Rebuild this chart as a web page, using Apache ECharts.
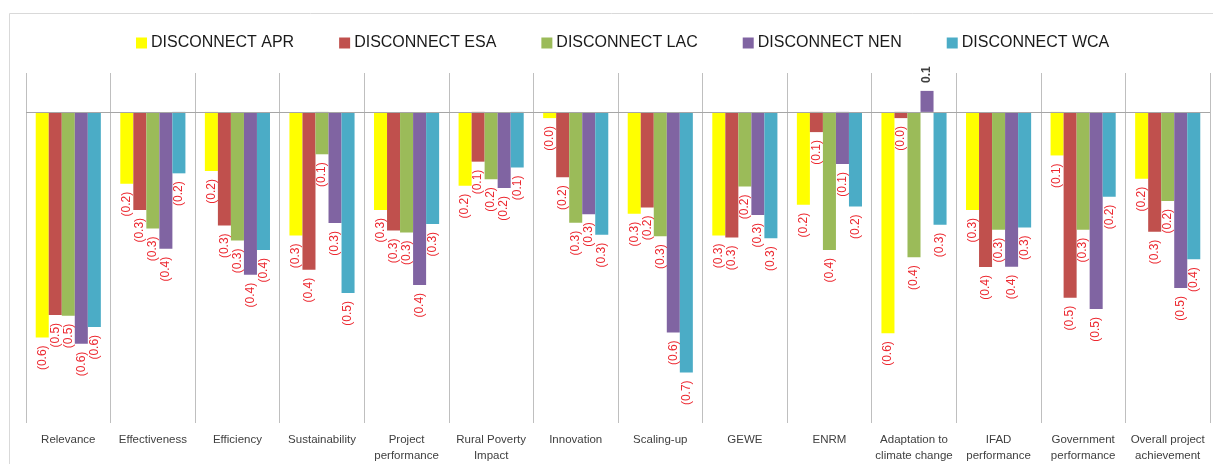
<!DOCTYPE html>
<html>
<head>
<meta charset="utf-8">
<script src="https://cdn.jsdelivr.net/npm/echarts@6/dist/echarts.min.js"></script>
<style>
html,body{margin:0;padding:0;background:#fff;}
#chart{width:1213px;height:464px;}
</style>
</head>
<body>
<div id="chart"></div>
<script>
const categories = ['Relevance','Effectiveness','Efficiency','Sustainability','Project\nperformance','Rural Poverty\nImpact','Innovation','Scaling-up','GEWE','ENRM','Adaptation to\nclimate change','IFAD\nperformance','Government\nperformance','Overall project\nachievement'];
const seriesNames = ['DISCONNECT APR','DISCONNECT ESA','DISCONNECT LAC','DISCONNECT NEN','DISCONNECT WCA'];
const APR = [-0.58,-0.185,-0.152,-0.318,-0.252,-0.19,-0.016,-0.262,-0.318,-0.239,-0.569,-0.252,-0.112,-0.172];
const ESA = [-0.522,-0.252,-0.292,-0.406,-0.305,-0.128,-0.168,-0.246,-0.323,-0.052,-0.016,-0.399,-0.478,-0.308];
const LAC = [-0.524,-0.30,-0.331,-0.109,-0.31,-0.173,-0.285,-0.32,-0.192,-0.355,-0.374,-0.303,-0.303,-0.229];
const NEN = [-0.596,-0.352,-0.419,-0.286,-0.445,-0.196,-0.263,-0.567,-0.265,-0.134,0.054,-0.398,-0.507,-0.453];
const WCA = [-0.553,-0.158,-0.355,-0.466,-0.288,-0.143,-0.316,-0.67,-0.325,-0.243,-0.29,-0.297,-0.218,-0.379];
const colors = ['#FFFF00','#C0504D','#9BBB59','#8064A2','#4BACC6'];
const allValues = [APR, ESA, LAC, NEN, WCA];

const FONT = "'Liberation Sans', Arial, sans-serif";
const negLabel = {
  show: true, position: 'bottom', distance: 8, rotate: 90,
  align: 'right', verticalAlign: 'middle',
  color: '#ec2830', fontSize: 12, fontFamily: FONT,
  formatter: p => '(' + Math.abs(p.value).toFixed(1) + ')'
};
const posLabel = {
  show: true, position: 'top', distance: 8, rotate: 90,
  align: 'left', verticalAlign: 'middle',
  color: '#404040', fontSize: 12, fontWeight: 'bold', fontFamily: FONT,
  formatter: p => p.value.toFixed(1)
};

const series = allValues.map((vals, i) => {
  const s = {
    name: seriesNames[i],
    type: 'bar',
    barGap: '0%',
    barCategoryGap: '23%',
    itemStyle: { color: colors[i] },
    data: vals.map(v => ({ value: v, label: v < 0 ? negLabel : posLabel }))
  };
  if (i === 0) {
    s.markLine = {
      silent: true, symbol: 'none', label: { show: false },
      lineStyle: { color: '#a6a6a6', type: 'solid', width: 1 },
      emphasis: { disabled: true },
      data: [{ yAxis: 0 }]
    };
  }
  return s;
});

const chart = echarts.init(document.getElementById('chart'), null, { renderer: 'canvas' });
chart.setOption({
  animation: false,
  color: colors,
  textStyle: { fontFamily: FONT },
  graphic: [{
    type: 'rect', z: -10,
    shape: { x: 9.5, y: 13.5, width: 1240, height: 480 },
    style: { fill: 'none', stroke: '#d9d9d9', lineWidth: 1 }
  }],
  legend: {
    left: 131, top: 30,
    itemWidth: 11, itemHeight: 11, itemGap: 45,
    icon: 'rect',
    textStyle: { fontSize: 16, color: '#1a1a1a', fontFamily: FONT, padding: [0, 0, 0, -1] },
    data: seriesNames
  },
  grid: { left: 26, right: 3, top: 73, bottom: 41, containLabel: false },
  xAxis: {
    type: 'category', data: categories,
    boundaryGap: true,
    axisLine: { show: false },
    axisTick: { show: false },
    splitLine: { show: true, interval: 0, lineStyle: { color: '#bfbfbf', width: 1 } },
    axisLabel: { interval: 0, margin: 9, fontSize: 11.5, lineHeight: 16, color: '#404040', fontFamily: FONT }
  },
  yAxis: {
    type: 'value', min: -0.8, max: 0.1, interval: 0.1,
    axisLabel: { show: false }, axisLine: { show: false }, axisTick: { show: false },
    splitLine: { show: false }
  },
  series: series
});
</script>
</body>
</html>
